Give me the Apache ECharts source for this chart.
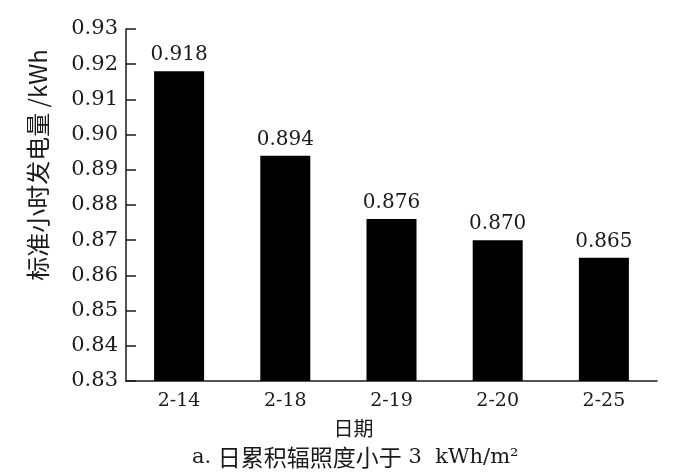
<!DOCTYPE html>
<html><head><meta charset="utf-8">
<script src="https://cdn.jsdelivr.net/npm/echarts@6/dist/echarts.min.js"></script>
<style>html,body{margin:0;padding:0;background:#fff}#c{width:681px;height:474px}</style>
</head><body><div id="c"></div>
<script>
const categories = ['2-14', '2-18', '2-19', '2-20', '2-25'];
const values = [0.918, 0.894, 0.876, 0.870, 0.865];
const yName = '标准小时发电量 /kWh';
const xName = '日期';
const captionParts = ['a. ', '日累积辐照度小于', ' 3  kWh/m²'];

const serif = 'DejaVu Serif';
const cjk = '"Noto Sans CJK SC"';
const ink = '#1a1a1a';

const chart = echarts.init(document.getElementById('c'), null, {renderer: 'canvas'});
chart.setOption({
  backgroundColor: '#fff',
  animation: false,
  title: {
    text: '{l|' + captionParts[0] + '}{c|' + captionParts[1] + '}{l|' + captionParts[2] + '}',
    left: 187, top: 441,
    textStyle: {
      fontWeight: 'normal', color: ink,
      rich: {
        l: {fontFamily: serif, fontSize: 21, color: ink},
        c: {fontFamily: cjk, fontSize: 23, color: ink}
      }
    }
  },
  grid: {left: 126, right: 24, top: 29, bottom: 93, containLabel: false},
  xAxis: {
    type: 'category',
    data: categories,
    name: xName,
    nameLocation: 'middle',
    nameGap: 37,
    nameTextStyle: {fontFamily: cjk, fontSize: 20, color: ink, padding: [0, 76, 0, 0]},
    axisLine: {lineStyle: {color: ink, width: 1.5}},
    axisTick: {inside: true, length: 6, lineStyle: {color: ink, width: 1.2}},
    axisLabel: {fontFamily: serif, fontSize: 19, color: ink, margin: 11}
  },
  yAxis: {
    type: 'value',
    min: 0.83, max: 0.93, interval: 0.01,
    name: yName,
    nameLocation: 'middle',
    nameGap: 76,
    nameTextStyle: {fontFamily: cjk, fontSize: 24, color: ink, padding: [0, 0, 0, 80]},
    axisLine: {show: true, lineStyle: {color: ink, width: 1.5}},
    axisTick: {show: true, inside: true, length: 10, lineStyle: {color: ink, width: 1.5}},
    splitLine: {show: false},
    axisLabel: {fontFamily: serif, fontSize: 21, color: ink, margin: 8,
      formatter: v => v.toFixed(2)}
  },
  series: [{
    type: 'bar',
    data: values,
    barWidth: 50,
    itemStyle: {color: '#000'},
    label: {
      show: true, position: 'top', distance: 6,
      fontFamily: serif, fontSize: 20, color: ink,
      formatter: p => p.value.toFixed(3)
    }
  }]
});
</script></body></html>
